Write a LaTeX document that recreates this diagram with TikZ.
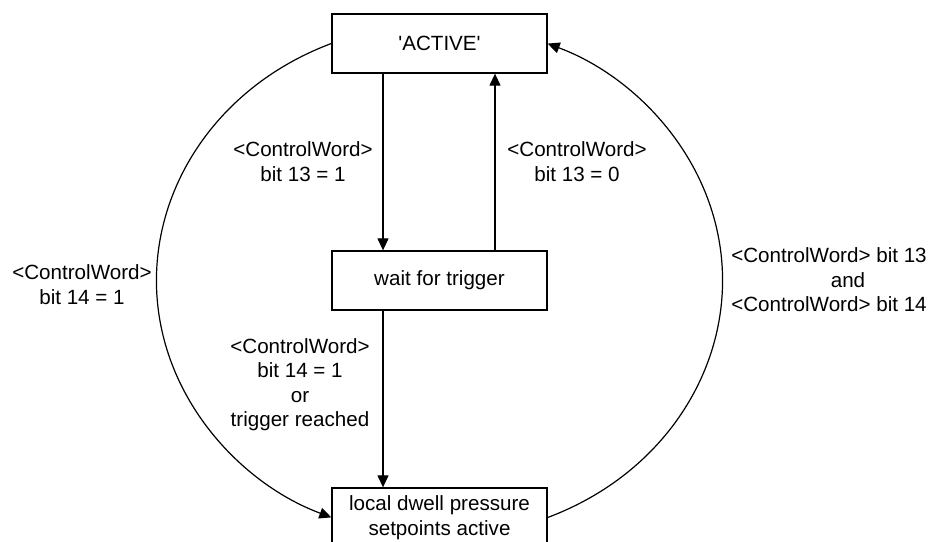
\documentclass[tikz,border=0pt]{standalone}
\usepackage{fontspec}
\setmainfont{Liberation Sans}[Ligatures=TeXOff]
\usetikzlibrary{arrows.meta}
\newcommand\lblfont{\fontsize{20.6}{24.5}\selectfont}
\begin{document}
\begin{tikzpicture}[x=1pt,y=1pt,
  box/.style={draw, line width=1.3pt, minimum width=215pt, minimum height=59pt, inner sep=0pt, align=center, font=\lblfont},
  lab/.style={align=center, inner sep=0pt, font=\lblfont},
  arr/.style={line width=1.2pt, -{Triangle[length=12pt,width=11pt]}}]
\useasboundingbox (0,0) rectangle (931,541);
\node[box] (A) at (439.5,497.5) {'ACTIVE'};
\node[box] (W) at (439.5,260.5) {wait for trigger};
\node[box] (L) at (439.5,23.5) {local dwell pressure\\setpoints active};
\draw[arr] ([xshift=-56.5pt]A.south) -- ([xshift=-56.5pt]W.north);
\draw[arr] ([xshift=55.5pt]W.north) -- ([xshift=55.5pt]A.south);
\draw[arr] ([xshift=-56.5pt]W.south) -- ([xshift=-56.5pt]L.north);
\draw[arr] (A.west) arc[start angle=112.4, end angle=247.6, x radius=282.5, y radius=256.3];
\draw[arr] (L.east) arc[start angle=-67.6, end angle=67.6, x radius=282.5, y radius=256.3];
\node[lab] (l1) at (303,379.5) {<ControlWord>\\bit 13 = 1};
\node[lab] (l2) at (577,379.5) {<ControlWord>\\bit 13 = 0};
\node[lab] (l3) at (82,256.5) {<ControlWord>\\bit 14 = 1};
\node[lab] (l4) at (300,156.5) {<ControlWord>\\bit 14 = 1\\or\\trigger reached};
\node[lab] (l5) at (829,261) {<ControlWord> bit 13\\\hspace*{38pt}and\\<ControlWord> bit 14};
\end{tikzpicture}
\end{document}
